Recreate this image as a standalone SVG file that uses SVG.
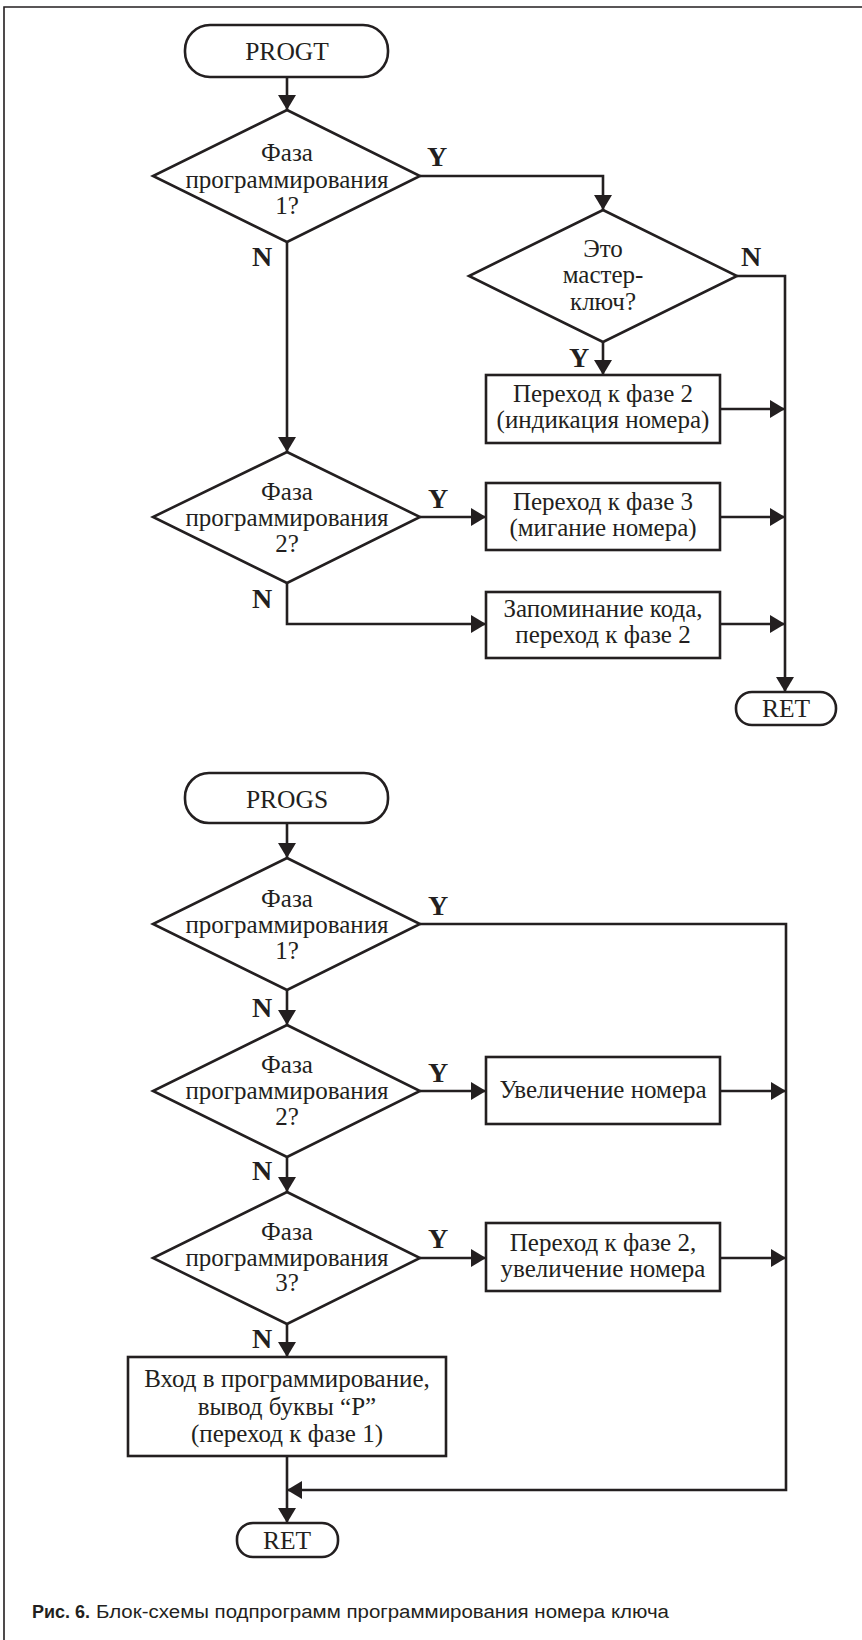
<svg xmlns="http://www.w3.org/2000/svg" width="862" height="1640" viewBox="0 0 862 1640">
<style>
.sh{fill:#fff;stroke:#231f20;stroke-width:2.6}
.ln{fill:none;stroke:#231f20;stroke-width:2.6}
.t{font-family:"Liberation Serif","Times New Roman",serif;font-size:25px;fill:#231f20;text-anchor:middle}
.tt{font-family:"Liberation Serif","Times New Roman",serif;font-size:25.5px;fill:#231f20;text-anchor:middle}
.l{font-family:"Liberation Serif","Times New Roman",serif;font-size:28px;font-weight:bold;fill:#231f20}
.c{font-family:"Liberation Sans",Arial,sans-serif;font-size:18px;fill:#231f20}
</style>
<defs>
<marker id="ar" markerUnits="userSpaceOnUse" markerWidth="16" markerHeight="19" refX="15" refY="9" orient="auto" viewBox="0 0 16 18">
<path d="M0,0 L15,9 L0,18 Z" fill="#231f20"/>
</marker>
</defs>
<rect width="862" height="1640" fill="#fff"/>
<path d="M4,1640 V7 H862" fill="none" stroke="#231f20" stroke-width="1.6"/>

<g id="connectors">
<path class="ln" d="M287,77 V110" marker-end="url(#ar)"/>
<path class="ln" d="M420,176 H603 V210" marker-end="url(#ar)"/>
<path class="ln" d="M737,276 H785 V692" marker-end="url(#ar)"/>
<path class="ln" d="M603,342 V375" marker-end="url(#ar)"/>
<path class="ln" d="M720,409 H785" marker-end="url(#ar)"/>
<path class="ln" d="M287,242 V452" marker-end="url(#ar)"/>
<path class="ln" d="M420,517 H486" marker-end="url(#ar)"/>
<path class="ln" d="M720,517 H785" marker-end="url(#ar)"/>
<path class="ln" d="M287,583 V624 H486" marker-end="url(#ar)"/>
<path class="ln" d="M720,624 H785" marker-end="url(#ar)"/>

<path class="ln" d="M287,823 V858" marker-end="url(#ar)"/>
<path class="ln" d="M420,924 H786 V1490 H287" marker-end="url(#ar)"/>
<path class="ln" d="M287,990 V1025" marker-end="url(#ar)"/>
<path class="ln" d="M420,1091 H486" marker-end="url(#ar)"/>
<path class="ln" d="M720,1091 H786" marker-end="url(#ar)"/>
<path class="ln" d="M287,1157 V1192" marker-end="url(#ar)"/>
<path class="ln" d="M420,1258 H486" marker-end="url(#ar)"/>
<path class="ln" d="M720,1258 H786" marker-end="url(#ar)"/>
<path class="ln" d="M287,1324 V1357" marker-end="url(#ar)"/>
<path class="ln" d="M287,1456 V1523" marker-end="url(#ar)"/>

<text class="l" x="427" y="166">Y</text>
<text class="l" x="252" y="266">N</text>
<text class="l" x="741" y="266">N</text>
<text class="l" x="569" y="367">Y</text>
<text class="l" x="428" y="508">Y</text>
<text class="l" x="252" y="608">N</text>
<text class="l" x="428" y="915">Y</text>
<text class="l" x="252" y="1017">N</text>
<text class="l" x="428" y="1082">Y</text>
<text class="l" x="252" y="1180">N</text>
<text class="l" x="428" y="1248">Y</text>
<text class="l" x="252" y="1348">N</text>
</g>

<g id="progt">
<rect class="sh" x="185" y="25" width="203" height="52" rx="25"/>
<text class="tt" x="287" y="60">PROGT</text>
</g>
<g id="d1">
<path class="sh" d="M287,110 L420,176 L287,242 L153,176 Z"/>
<text class="t" x="287" y="161">Фаза</text>
<text class="t" x="287" y="188">программирования</text>
<text class="t" x="287" y="214">1?</text>
</g>
<g id="d2">
<path class="sh" d="M603,210 L737,276 L603,342 L469,276 Z"/>
<text class="t" x="603" y="257">Это</text>
<text class="t" x="603" y="283">мастер-</text>
<text class="t" x="603" y="310">ключ?</text>
</g>
<g id="b1">
<rect class="sh" x="486" y="375" width="234" height="68"/>
<text class="t" x="603" y="402">Переход к фазе 2</text>
<text class="t" x="603" y="428">(индикация номера)</text>
</g>
<g id="d3">
<path class="sh" d="M287,452 L420,517 L287,583 L153,517 Z"/>
<text class="t" x="287" y="500">Фаза</text>
<text class="t" x="287" y="526">программирования</text>
<text class="t" x="287" y="552">2?</text>
</g>
<g id="b2">
<rect class="sh" x="486" y="483" width="234" height="67"/>
<text class="t" x="603" y="510">Переход к фазе 3</text>
<text class="t" x="603" y="536">(мигание номера)</text>
</g>
<g id="b3">
<rect class="sh" x="486" y="592" width="234" height="66"/>
<text class="t" x="603" y="617">Запоминание кода,</text>
<text class="t" x="603" y="643">переход к фазе 2</text>
</g>
<g id="ret1">
<rect class="sh" x="736" y="692" width="100" height="33" rx="16"/>
<text class="tt" x="786" y="717">RET</text>
</g>

<g id="progs">
<rect class="sh" x="185" y="773" width="203" height="50" rx="24"/>
<text class="tt" x="287" y="808">PROGS</text>
</g>
<g id="d4">
<path class="sh" d="M287,858 L420,924 L287,990 L153,924 Z"/>
<text class="t" x="287" y="907">Фаза</text>
<text class="t" x="287" y="933">программирования</text>
<text class="t" x="287" y="959">1?</text>
</g>
<g id="d5">
<path class="sh" d="M287,1025 L420,1091 L287,1157 L153,1091 Z"/>
<text class="t" x="287" y="1073">Фаза</text>
<text class="t" x="287" y="1099">программирования</text>
<text class="t" x="287" y="1125">2?</text>
</g>
<g id="b4">
<rect class="sh" x="486" y="1057" width="234" height="67"/>
<text class="t" x="603" y="1098">Увеличение номера</text>
</g>
<g id="d6">
<path class="sh" d="M287,1192 L420,1258 L287,1324 L153,1258 Z"/>
<text class="t" x="287" y="1240">Фаза</text>
<text class="t" x="287" y="1266">программирования</text>
<text class="t" x="287" y="1291">3?</text>
</g>
<g id="b6">
<rect class="sh" x="486" y="1223" width="234" height="68"/>
<text class="t" x="603" y="1251">Переход к фазе 2,</text>
<text class="t" x="603" y="1277">увеличение номера</text>
</g>
<g id="b5">
<rect class="sh" x="128" y="1357" width="318" height="99"/>
<text class="t" x="287" y="1387">Вход в программирование,</text>
<text class="t" x="287" y="1415">вывод буквы “P”</text>
<text class="t" x="287" y="1442">(переход к фазе 1)</text>
</g>
<g id="ret2">
<rect class="sh" x="237" y="1523" width="101" height="34" rx="16"/>
<text class="tt" x="287" y="1549">RET</text>
</g>

<text class="c" x="32" y="1618" font-weight="bold" textLength="58" lengthAdjust="spacingAndGlyphs">Рис. 6.</text>
<text class="c" x="96" y="1618" textLength="573" lengthAdjust="spacingAndGlyphs">Блок-схемы подпрограмм программирования номера ключа</text>
</svg>
